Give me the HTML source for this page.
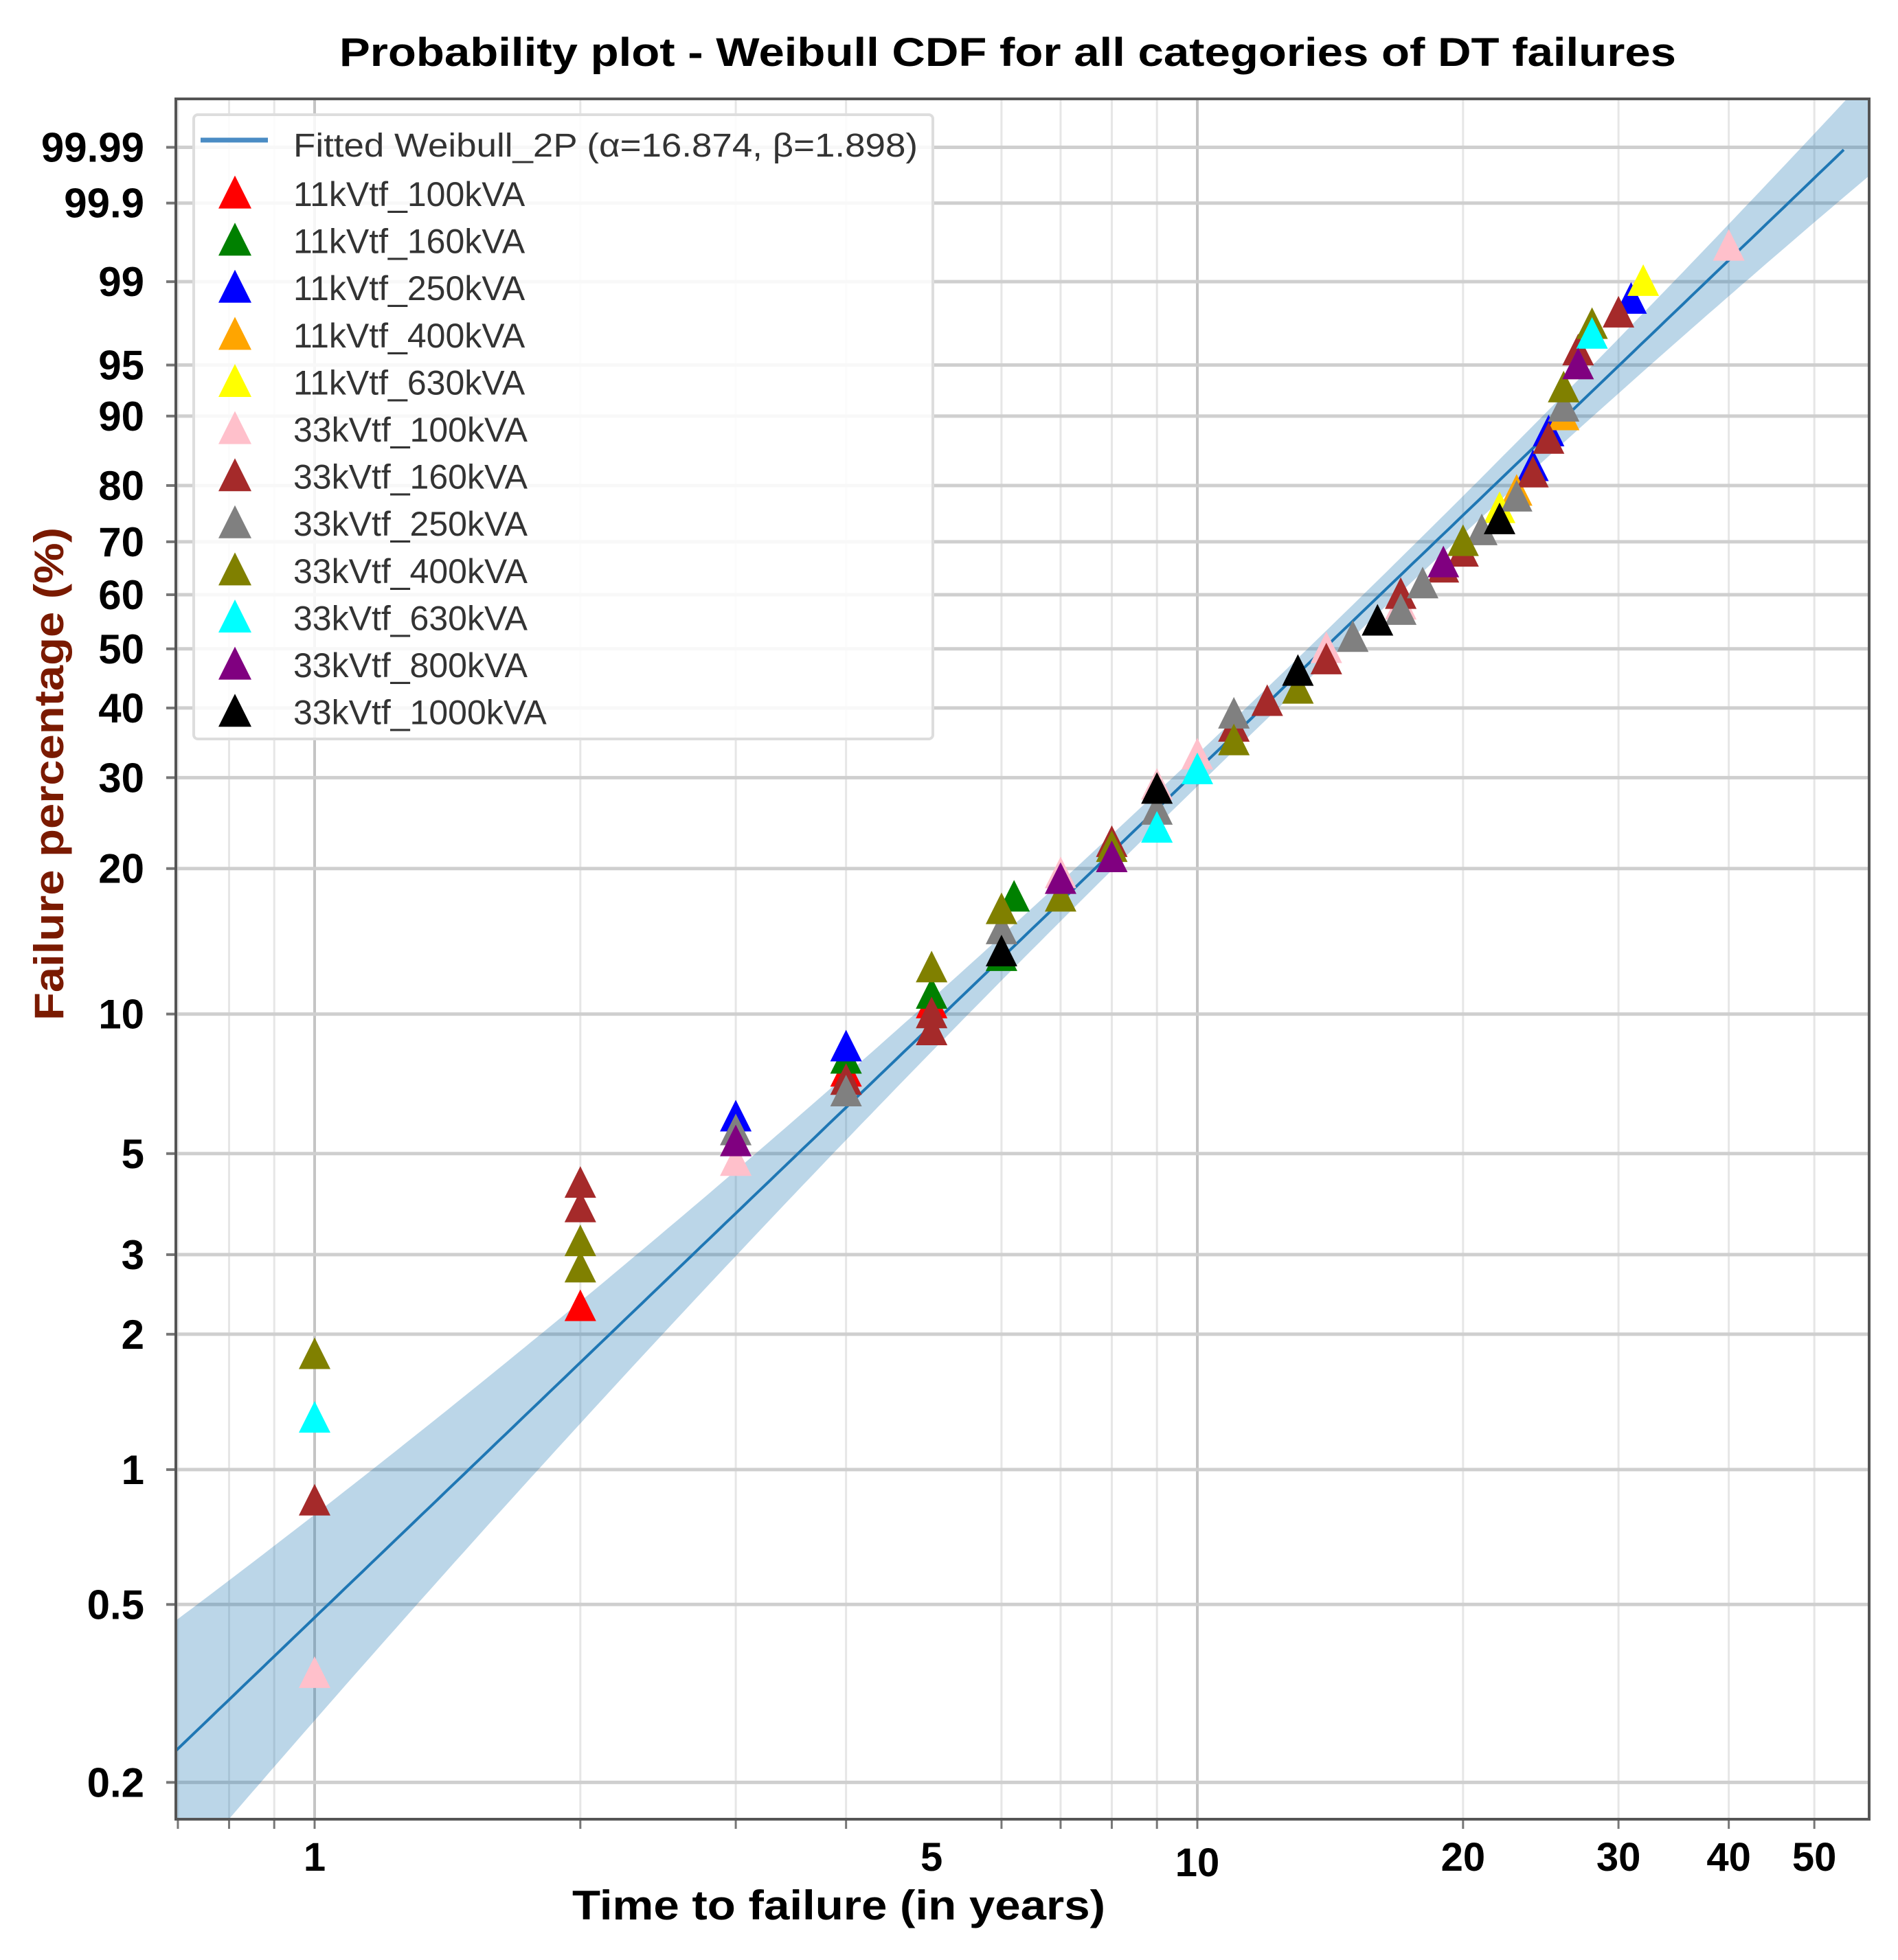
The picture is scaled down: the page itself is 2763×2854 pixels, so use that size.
<!DOCTYPE html>
<html><head><meta charset="utf-8"><style>
html,body{margin:0;padding:0;background:#fff}
svg{display:block}
text{font-family:"Liberation Sans",sans-serif}
</style></head><body>
<svg id="chart" width="2763" height="2854" viewBox="0 0 2763 2854" xmlns="http://www.w3.org/2000/svg">
<rect width="2763" height="2854" fill="#fff"/>
<text x="494" y="96" font-size="58" font-weight="bold" fill="#000" textLength="1946" lengthAdjust="spacingAndGlyphs">Probability plot - Weibull CDF for all categories of DT failures</text>
<g id="grid"></g>
<g id="band"></g>
<g id="marks"></g>
<g id="axes"></g>
<g id="legend"></g>
<text x="833" y="2795" font-size="60" font-weight="bold" fill="#000" textLength="776" lengthAdjust="spacingAndGlyphs">Time to failure (in years)</text>
<text transform="translate(92,1127) rotate(-90)" text-anchor="middle" font-size="60" font-weight="bold" fill="#7a1a00" textLength="718" lengthAdjust="spacingAndGlyphs">Failure percentage (%)</text>
</svg>
<script>
const yTicks = [99.99, 99.9, 99, 95, 90, 80, 70, 60, 50, 40, 30, 20, 10, 5, 3, 2, 1, 0.5, 0.2];
const yTickLabels = ["99.99","99.9","99","95","90","80","70","60","50","40","30","20","10","5","3","2","1","0.5","0.2"];
const xTicks = [1, 5, 10, 20, 30, 40, 50];
const xTickLabels = ["1","5","10","20","30","40","50"];
const xMinor = [0.7,0.8,0.9,2,3,4,6,7,8,9,20,30,40,50];
const fitAlpha = 16.874;
const fitBeta = 1.898;
const seriesNames = ["11kVtf_100kVA","11kVtf_160kVA","11kVtf_250kVA","11kVtf_400kVA","11kVtf_630kVA","33kVtf_100kVA","33kVtf_160kVA","33kVtf_250kVA","33kVtf_400kVA","33kVtf_630kVA","33kVtf_800kVA","33kVtf_1000kVA"];
const seriesColors = ["#ff0000","#008000","#0000ff","#ffa500","#ffff00","#ffc0cb","#a52a2a","#808080","#808000","#00ffff","#800080","#000000"];
const s11_100_t = [2,4,5]; const s11_100_f = [2.3,7.5,10.5];
const s11_160_t = [4,5,6,6.2]; const s11_160_f = [8,11,13.2,17.5];
const s11_250_t = [3,4,24,25,31]; const s11_250_f = [6,8.5,83,88,98.5];
const s11_400_t = [23,26]; const s11_400_f = [79,90];
const s11_630_t = [22,32]; const s11_630_f = [76,99];
const s33_100_t = [1,3,7,9,10,14,17,40]; const s33_100_f = [0.35,4.8,19.5,29,33,50,58,99.6];
const s33_160_t = [1,2,2,4,5,5,8,11,12,14,17,19,20,24,25,27,30]; const s33_160_f = [0.85,4.3,3.8,7.2,10,9.2,22.5,37,41,48,60,65,68,82,87,96,98];
const s33_250_t = [3,4,6,9,11,15,17,18,21,23,26,27]; const s33_250_f = [5.6,6.8,15,26,39,52,57,62,72,78,91,95];
const s33_400_t = [1,2,2,5,6,7,8,11,13,20,26,28]; const s33_400_f = [1.8,3.2,2.8,12.5,16.5,17.5,22,35,43,70,93,97.5];
const s33_630_t = [1,9,10,28]; const s33_630_f = [1.3,24,31,97];
const s33_800_t = [3,7,8,19,27]; const s33_800_f = [5.3,19,21,66,95];
const s33_1000_t = [6,9,13,16,22]; const s33_1000_f = [13.5,28.5,46,55,74];
const seriesT = [s11_100_t,s11_160_t,s11_250_t,s11_400_t,s11_630_t,s33_100_t,s33_160_t,s33_250_t,s33_400_t,s33_630_t,s33_800_t,s33_1000_t];
const seriesF = [s11_100_f,s11_160_f,s11_250_f,s11_400_f,s11_630_f,s33_100_f,s33_160_f,s33_250_f,s33_400_f,s33_630_f,s33_800_f,s33_1000_f];

const NS="http://www.w3.org/2000/svg";
const L=256,R=2721,T=144,B=2649;
const X1=458, DEC=1285;
function xs(t){return X1+Math.log10(t)*DEC;}
function wOf(F){return Math.log(-Math.log(1-F/100));}
function yw(w){return 214.5+(2.2203-w)*282.3;}
function ys(F){return yw(wOf(F));}
function mk(tag,attrs,parent){const e=document.createElementNS(NS,tag);for(const k in attrs)e.setAttribute(k,attrs[k]);parent.appendChild(e);return e;}
const grid=document.getElementById('grid'),band=document.getElementById('band'),marks=document.getElementById('marks'),axes=document.getElementById('axes'),legend=document.getElementById('legend');
const defs=mk('defs',{},document.getElementById('chart'));
const cp=mk('clipPath',{id:'pc'},defs);mk('rect',{x:L,y:T,width:R-L,height:B-T},cp);
band.setAttribute('clip-path','url(#pc)');marks.setAttribute('clip-path','url(#pc)');
xMinor.forEach(v=>{const g=mk('line',{x1:xs(v),x2:xs(v),y1:T,y2:B,stroke:'#e6e6e6','stroke-width':3},grid);
});
[1,10].forEach(v=>{const g=mk('line',{x1:xs(v),x2:xs(v),y1:T,y2:B,stroke:'#c4c4c4','stroke-width':4},grid);
});
yTicks.forEach((v,i)=>{const y=ys(v);
const g=mk('line',{x1:L,x2:R,y1:y,y2:y,stroke:'#cfcfcf','stroke-width':5},grid);

const tk=mk('line',{x1:L-14,x2:L,y1:y,y2:y,stroke:'#777','stroke-width':4},axes);

const tx=mk('text',{x:L-46,y:y+21,'text-anchor':'end','font-size':60,'font-weight':'bold',fill:'#000'},axes);
tx.textContent=yTickLabels[i];});
xTicks.forEach((v,i)=>{const x=xs(v);
const tx=mk('text',{x:x,y:2724+(v==10?8:0),'text-anchor':'middle','font-size':58,'font-weight':'bold',fill:'#000'},axes);
tx.textContent=xTickLabels[i];});
xMinor.concat([1,10]).forEach(v=>{const tk=mk('line',{x1:xs(v),x2:xs(v),y1:B,y2:B+14,stroke:'#777','stroke-width':3},axes);
});
const tmin=Math.pow(10,(L-X1)/DEC),tmax=Math.pow(10,(R-X1)/DEC);
function dlt(t){const u=Math.log(t/12);return 0.08+0.073*u*u;}
let up=[],lo=[],ln=[];
for(let i=0;i<=200;i++){const t=tmin*Math.pow(tmax/tmin,i/200);const w=fitBeta*Math.log(t/fitAlpha);
up.push(xs(t).toFixed(1)+','+yw(w+dlt(t)).toFixed(1));lo.push(xs(t).toFixed(1)+','+yw(w-dlt(t)).toFixed(1));
if(w<wOf(99.99))ln.push(xs(t).toFixed(1)+','+yw(w).toFixed(1));}
const bp=mk('polygon',{points:up.concat(lo.reverse()).join(' '),fill:'#1f77b4','fill-opacity':0.3},band);

const fl=mk('polyline',{points:ln.join(' '),fill:'none',stroke:'#1f77b4','stroke-width':4},band);

function tri(cx,cy,s){return (cx)+','+(cy-s*0.55)+' '+(cx-s*0.5)+','+(cy+s*0.45)+' '+(cx+s*0.5)+','+(cy+s*0.45);}
seriesT.forEach((ts,si)=>{ts.forEach((t,j)=>{
const p=mk('polygon',{points:tri(xs(t),ys(seriesF[si][j]),46),fill:seriesColors[si]},marks);

});});
const fr=mk('rect',{x:L,y:T,width:R-L,height:B-T,fill:'none',stroke:'#555','stroke-width':4},axes);

const lb=mk('rect',{x:282,y:167,width:1076,height:909,fill:'#fff','fill-opacity':0.85,stroke:'#ddd','stroke-width':4,rx:6},legend);

const ll=mk('line',{x1:292,x2:390,y1:204,y2:204,stroke:'#4a8cc4','stroke-width':7},legend);

const lt=mk('text',{x:427,y:228,'font-size':48,fill:'#333',textLength:909,lengthAdjust:'spacingAndGlyphs'},legend);

lt.textContent='Fitted Weibull_2P (\u03b1=16.874, \u03b2=1.898)';
seriesNames.forEach((n,i)=>{const y=282+i*68.6;
const p=mk('polygon',{points:tri(342,y,48),fill:seriesColors[i]},legend);

const t=mk('text',{x:427,y:y+18,'font-size':50,fill:'#333'},legend);
t.textContent=n;});
</script>
</body></html>
